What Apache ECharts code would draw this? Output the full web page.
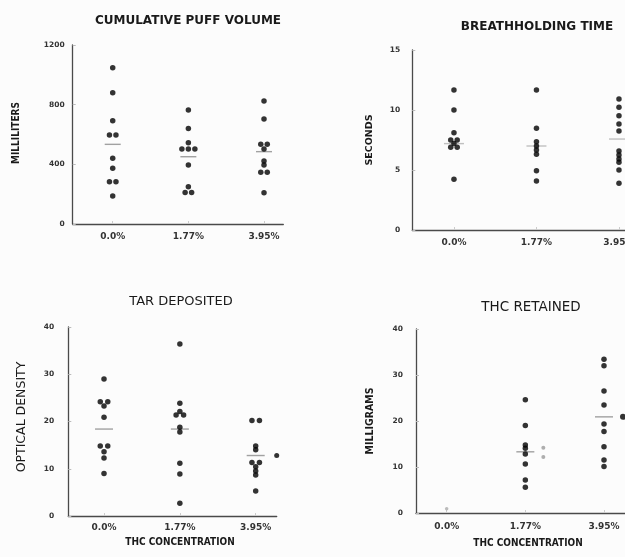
<!DOCTYPE html>
<html><head><meta charset="utf-8">
<script src="https://cdn.jsdelivr.net/npm/echarts@6/dist/echarts.min.js"></script>
<style>html,body{margin:0;padding:0;background:#fcfcfc}#c{width:625px;height:557px}</style>
</head><body><div id="c"></div>
<script>
const categories = ['0.0%', '1.77%', '3.95%'];

// Cumulative puff volume (milliliters)
const puff00 = [1048, 880, 692, 596, 596, 440, 373, 283, 283, 188];
const puff177 = [764, 641, 545, 503, 503, 503, 395, 250, 212, 212];
const puff395 = [824, 704, 534, 534, 503, 422, 395, 347, 347, 210];
const puffMeans = [534, 451, 485];
const puffTicks = [0, 400, 800, 1200];

// Breathholding time (seconds)
const breath00 = [11.67, 10.0, 8.1, 7.5, 7.5, 7.2, 6.9, 6.9, 4.22];
const breath177 = [11.67, 8.47, 7.36, 7.0, 6.67, 6.31, 4.94, 4.08];
const breath395 = [10.92, 10.23, 9.53, 8.83, 8.25, 6.58, 6.25, 5.92, 5.64, 5.0, 3.89];
const breathMeans = [7.2, 7.0, 7.58];
const breathTicks = [0, 5, 10, 15];

// Tar deposited (optical density)
const tar00 = [29.0, 24.2, 24.2, 23.3, 20.9, 14.8, 14.8, 13.6, 12.3, 9.0];
const tar177 = [36.4, 23.85, 22.1, 21.4, 21.4, 18.8, 17.8, 11.15, 8.9, 2.7];
const tar395 = [20.2, 20.2, 14.8, 14.0, 11.3, 11.3, 10.4, 9.5, 8.7, 5.3];
const tarMeans = [18.4, 18.4, 12.8];
const tarSideMark395 = [12.8];
const tarTicks = [0, 10, 20, 30, 40];

// THC retained (milligrams)
const thc00 = [0.9];
const thc177 = [24.6, 19.0, 14.8, 14.1, 12.8, 10.65, 7.2, 5.6];
const thc395 = [33.4, 32.0, 26.5, 23.5, 19.35, 17.7, 14.4, 11.5, 10.1];
const thcMeans = [null, 13.3, 20.9];
const thcSideMarks177 = [14.2, 12.2];
const thcSideMark395 = [20.9];
const thcTicks = [0, 10, 20, 30, 40];

const FONT = 'DejaVu Sans';
const COND = 'DejaVu Sans Condensed';
const DOT = '#000';

function swarm(cols, gap) {
  const out = [];
  cols.forEach((vals, ci) => {
    const counts = {};
    vals.forEach(v => counts[v] = (counts[v] || 0) + 1);
    const seen = {};
    vals.forEach(v => {
      seen[v] = seen[v] === undefined ? 0 : seen[v] + 1;
      const n = counts[v];
      out.push({ value: [ci + 1, v], symbolOffset: [(seen[v] - (n - 1) / 2) * gap, 0] });
    });
  });
  return out;
}
function meanData(means) {
  return means.map((m, i) => m == null ? null : [i + 1, m]).filter(d => d);
}
function at(ci, vals) { return vals.map(v => [ci, v]); }

const panels = [
  { grid: { left: 72.7, top: 45, width: 210.6, height: 179 }, xmin: 0.471, xmax: 3.255, ticks: puffTicks, ylm: 8, xlm: 8 },
  { grid: { left: 412.3, top: 50, width: 240, height: 180 }, xmin: 0.495, xmax: 3.404, ticks: breathTicks, ylm: 12, xlm: 8 },
  { grid: { left: 68.3, top: 327, width: 208.4, height: 189 }, xmin: 0.529, xmax: 3.277, ticks: tarTicks, ylm: 14, xlm: 7 },
  { grid: { left: 416, top: 329, width: 216, height: 184 }, xmin: 0.61, xmax: 3.356, ticks: thcTicks, ylm: 13, xlm: 9 }
];

const grids = panels.map(p => Object.assign({ containLabel: false, outerBoundsMode: 'none' }, p.grid));
const xAxes = panels.map((p, i) => ({
  type: 'value', gridIndex: i, min: p.xmin, max: p.xmax,
  axisLine: { lineStyle: { color: '#4a4a4a', width: 1.3 } },
  axisTick: { show: true, inside: true, length: 3, customValues: [1, 2, 3], lineStyle: { color: '#ccc' } },
  axisLabel: { customValues: [1, 2, 3], formatter: v => categories[Math.round(v) - 1], margin: p.xlm,
    fontFamily: FONT, fontWeight: 'bold', fontSize: 9, color: '#333' },
  splitLine: { show: false }
}));
const yAxes = panels.map((p, i) => ({
  type: 'value', gridIndex: i, min: p.ticks[0], max: p.ticks[p.ticks.length - 1],
  interval: p.ticks[1] - p.ticks[0],
  axisLine: { show: true, lineStyle: { color: '#4a4a4a', width: 1.3 } },
  axisTick: { show: true, inside: true, length: 3, lineStyle: { color: '#bbb' } },
  axisLabel: { margin: p.ylm, formatter: v => String(v), fontFamily: FONT, fontWeight: 'bold', fontSize: 7.5, color: '#333' },
  splitLine: { show: false }
}));

function dots(i, data, size, color) {
  return { type: 'scatter', xAxisIndex: i, yAxisIndex: i, symbol: 'circle', symbolSize: size || 5.5,
    itemStyle: { color: color || DOT }, data: data, silent: true, z: 3 };
}
function means(i, data, w, color) {
  return { type: 'scatter', xAxisIndex: i, yAxisIndex: i, symbol: 'rect', symbolSize: [w, 1.4],
    itemStyle: { color: color || '#8a8a8a' }, data: data, silent: true, z: 2 };
}
function side(i, data, off, size, color) {
  return { type: 'scatter', xAxisIndex: i, yAxisIndex: i, symbol: 'circle', symbolSize: size,
    symbolOffset: [off, 0], itemStyle: { color: color }, data: data, silent: true, z: 3 };
}

const series = [
  dots(0, swarm([puff00, puff177, puff395], 6.5)),
  means(0, meanData(puffMeans), 16),
  dots(1, swarm([breath00, breath177, breath395], 6.5)),
  means(1, meanData(breathMeans), 20, '#b0b0b0'),
  dots(2, swarm([tar00, tar177, tar395], 7.5)),
  means(2, meanData(tarMeans), 18),
  side(2, at(3, tarSideMark395), 21, 5, DOT),
  dots(3, at(1, thc00), 3.5, '#aaa'),
  dots(3, swarm([[], thc177, thc395], 7)),
  means(3, meanData(thcMeans), 18),
  side(3, at(2, thcSideMarks177), 18, 4, '#9a9a9a'),
  side(3, at(3, thcSideMark395), 19, 6, DOT)
];

function txt(text, x, y, size, weight, rot, family) {
  return { type: 'text', x: x, y: y, rotation: rot || 0, silent: true,
    style: { text: text, fill: '#1a1a1a', font: (weight || 'bold') + ' ' + size + 'px "' + (family || FONT) + '"',
      align: 'center', verticalAlign: 'middle' } };
}
const R = Math.PI / 2;
const graphic = [
  txt('CUMULATIVE PUFF VOLUME', 188, 21, 12),
  txt('BREATHHOLDING TIME', 537, 27, 12),
  txt('TAR DEPOSITED', 181, 302, 13, 'normal'),
  txt('THC RETAINED', 531, 307, 13.5, 'normal'),
  txt('MILLILITERS', 16, 133, 10, 'bold', R, COND),
  txt('SECONDS', 370, 140, 9.5, 'bold', R),
  txt('OPTICAL DENSITY', 22, 417, 12.5, 'normal', R),
  txt('MILLIGRAMS', 370, 421, 10.5, 'bold', R, COND),
  txt('THC CONCENTRATION', 180, 542, 10, 'bold', 0, COND),
  txt('THC CONCENTRATION', 528, 543, 10, 'bold', 0, COND)
];

const chart = echarts.init(document.getElementById('c'), null, { renderer: 'canvas' });
chart.setOption({
  backgroundColor: '#fcfcfc',
  animation: false,
  grid: grids, xAxis: xAxes, yAxis: yAxes, series: series, graphic: graphic
});
</script></body></html>
